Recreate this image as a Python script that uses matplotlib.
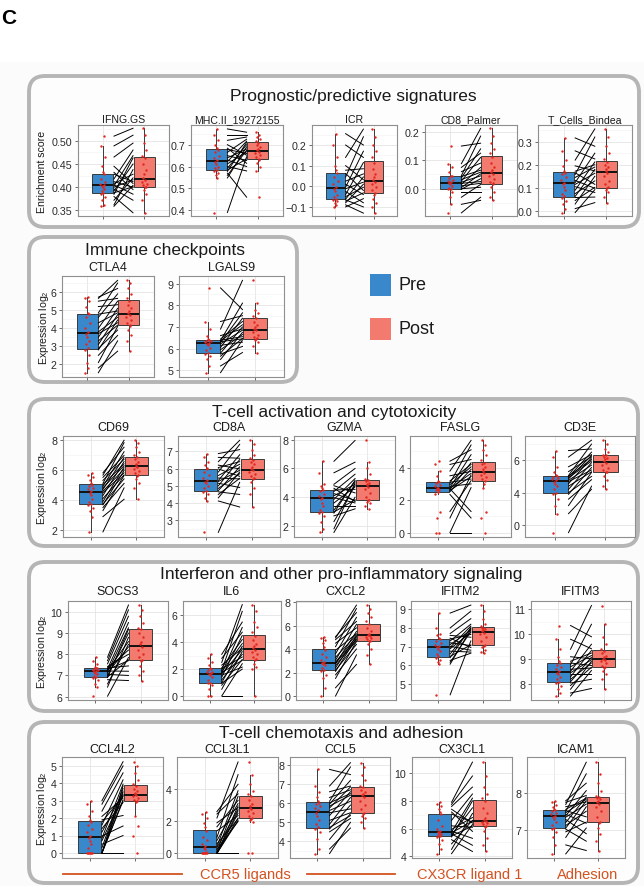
import matplotlib
matplotlib.use('Agg')
import matplotlib.pyplot as plt
from matplotlib.patches import FancyBboxPatch, Rectangle
from matplotlib.lines import Line2D
from matplotlib.ticker import AutoMinorLocator

plt.rcParams['font.family'] = ['Liberation Sans', 'DejaVu Sans']
plt.rcParams['mathtext.fontset'] = 'custom'
plt.rcParams['mathtext.rm'] = 'Liberation Sans'
plt.rcParams['mathtext.it'] = 'Liberation Sans:italic'

W, H = 644, 887
PRE_COLOR = '#3A88CC'
POST_COLOR = '#F27A6E'
DOT_COLOR = '#E3261F'
NOTE_COLOR = '#D4521F'

# ---- values (20 samples per group, sorted) ----
IFNG_PRE = [0.359, 0.362, 0.372, 0.380, 0.385, 0.388, 0.392, 0.396, 0.400, 0.403, 0.405, 0.408, 0.412, 0.418, 0.428, 0.432, 0.445, 0.465, 0.489, 0.510]
IFNG_POST = [0.345, 0.372, 0.385, 0.395, 0.400, 0.401, 0.404, 0.408, 0.412, 0.416, 0.420, 0.428, 0.438, 0.450, 0.463, 0.468, 0.480, 0.495, 0.512, 0.527]
MHC_PRE = [0.39, 0.548, 0.560, 0.570, 0.578, 0.584, 0.592, 0.600, 0.612, 0.622, 0.630, 0.640, 0.650, 0.665, 0.678, 0.684, 0.700, 0.720, 0.745, 0.772]
MHC_POST = [0.46, 0.580, 0.600, 0.615, 0.628, 0.635, 0.645, 0.652, 0.660, 0.668, 0.674, 0.680, 0.690, 0.700, 0.710, 0.716, 0.725, 0.735, 0.745, 0.757]
ICR_PRE = [-0.100, -0.090, -0.080, -0.072, -0.066, -0.062, -0.050, -0.040, -0.025, -0.012, -0.004, 0.010, 0.025, 0.045, 0.062, 0.078, 0.100, 0.140, 0.200, 0.255]
ICR_POST = [-0.130, -0.100, -0.080, -0.060, -0.040, -0.032, -0.020, -0.005, 0.010, 0.020, 0.032, 0.045, 0.060, 0.085, 0.115, 0.140, 0.170, 0.200, 0.240, 0.277]
CD8P_PRE = [-0.085, -0.055, -0.030, -0.010, -0.002, 0.0, 0.004, 0.010, 0.015, 0.019, 0.023, 0.027, 0.032, 0.038, 0.043, 0.046, 0.060, 0.075, 0.088, 0.150]
CD8P_POST = [-0.041, -0.030, -0.010, 0.005, 0.015, 0.019, 0.025, 0.035, 0.045, 0.052, 0.058, 0.065, 0.075, 0.090, 0.110, 0.125, 0.140, 0.160, 0.185, 0.212]
TCB_PRE = [-0.007, 0.010, 0.030, 0.045, 0.058, 0.063, 0.075, 0.090, 0.105, 0.115, 0.123, 0.132, 0.145, 0.158, 0.165, 0.172, 0.195, 0.220, 0.260, 0.316]
TCB_POST = [0.036, 0.060, 0.080, 0.092, 0.098, 0.102, 0.115, 0.130, 0.150, 0.163, 0.173, 0.180, 0.190, 0.200, 0.212, 0.225, 0.250, 0.280, 0.320, 0.355]
CTLA4_PRE = [1.54, 1.80, 2.10, 2.50, 2.80, 2.88, 3.10, 3.30, 3.50, 3.70, 3.80, 4.00, 4.30, 4.60, 4.78, 4.85, 5.20, 5.50, 5.65, 5.72]
CTLA4_POST = [2.73, 3.30, 3.60, 3.90, 4.10, 4.17, 4.30, 4.45, 4.60, 4.75, 4.85, 4.95, 5.10, 5.30, 5.50, 5.65, 5.90, 6.20, 6.50, 6.65]
LGALS9_PRE = [4.89, 5.20, 5.50, 5.65, 5.75, 5.79, 5.95, 6.05, 6.15, 6.22, 6.28, 6.32, 6.35, 6.37, 6.39, 6.44, 6.60, 6.90, 7.25, 8.80]
LGALS9_POST = [5.82, 6.10, 6.30, 6.40, 6.45, 6.47, 6.55, 6.65, 6.75, 6.85, 6.91, 7.00, 7.10, 7.25, 7.40, 7.52, 7.65, 7.80, 8.10, 9.15]
CD69_PRE = [1.89, 2.90, 3.30, 3.50, 3.68, 3.73, 3.90, 4.10, 4.30, 4.48, 4.58, 4.70, 4.80, 4.90, 5.02, 5.10, 5.30, 5.50, 5.65, 5.80]
CD69_POST = [4.05, 4.80, 5.10, 5.40, 5.62, 5.66, 5.80, 5.95, 6.05, 6.18, 6.28, 6.40, 6.55, 6.70, 6.82, 6.95, 7.20, 7.50, 7.80, 7.96]
CD8A_PRE = [2.30, 4.12, 4.30, 4.50, 4.65, 4.72, 4.85, 5.00, 5.15, 5.25, 5.31, 5.45, 5.60, 5.80, 5.98, 6.06, 6.20, 6.40, 6.65, 6.87]
CD8A_POST = [3.77, 4.50, 4.90, 5.20, 5.40, 5.43, 5.55, 5.70, 5.80, 5.90, 5.98, 6.10, 6.25, 6.40, 6.52, 6.60, 6.80, 7.10, 7.40, 7.64]
GZMA_PRE = [1.55, 1.80, 2.30, 2.70, 2.90, 2.97, 3.10, 3.40, 3.60, 3.85, 3.97, 4.10, 4.25, 4.40, 4.50, 4.62, 4.80, 4.90, 5.70, 6.50]
GZMA_POST = [3.19, 3.40, 3.60, 3.70, 3.78, 3.82, 4.00, 4.30, 4.55, 4.72, 4.82, 4.90, 5.00, 5.10, 5.18, 5.30, 5.60, 6.00, 6.44, 7.95]
FASLG_PRE = [0.0, 0.0, 0.9, 1.3, 2.35, 2.52, 2.60, 2.65, 2.70, 2.73, 2.77, 2.85, 2.95, 3.05, 3.10, 3.18, 3.50, 3.79, 4.20, 4.40]
FASLG_POST = [0.0, 0.9, 1.3, 2.77, 3.00, 3.20, 3.30, 3.45, 3.55, 3.65, 3.77, 3.90, 4.05, 4.20, 4.30, 4.50, 4.80, 5.10, 5.40, 5.68]
CD3E_PRE = [1.53, 2.70, 3.20, 3.60, 3.90, 4.00, 4.20, 4.40, 4.55, 4.68, 4.76, 4.85, 4.92, 4.97, 5.02, 5.06, 5.30, 5.60, 6.20, 6.60]
CD3E_POST = [4.21, 4.40, 4.80, 5.00, 5.25, 5.29, 5.40, 5.55, 5.70, 5.85, 5.95, 6.05, 6.15, 6.22, 6.30, 6.35, 6.50, 6.70, 7.00, 7.24]
SOCS3_PRE = [6.02, 6.45, 6.60, 6.80, 6.90, 6.93, 6.98, 7.05, 7.12, 7.17, 7.21, 7.25, 7.28, 7.31, 7.33, 7.36, 7.42, 7.55, 7.70, 7.86]
SOCS3_POST = [6.76, 7.00, 7.20, 7.45, 7.70, 7.74, 7.85, 8.00, 8.20, 8.35, 8.47, 8.60, 8.80, 9.00, 9.18, 9.25, 9.50, 9.80, 10.10, 10.33]
IL6_PRE = [0.0, 0.0, 0.5, 0.8, 0.95, 1.0, 1.20, 1.40, 1.55, 1.63, 1.69, 1.75, 1.82, 1.90, 2.03, 2.10, 2.30, 2.50, 2.80, 3.10]
IL6_POST = [0.0, 2.00, 2.15, 2.40, 2.65, 2.72, 2.90, 3.10, 3.30, 3.45, 3.55, 3.70, 3.90, 4.20, 4.50, 4.75, 5.10, 5.50, 6.30, 6.80]
CXCL2_PRE = [0.0, 0.7, 1.5, 1.8, 2.10, 2.20, 2.40, 2.60, 2.75, 2.80, 2.88, 3.05, 3.30, 3.60, 3.90, 4.20, 4.50, 4.80, 4.95, 5.05]
CXCL2_POST = [2.69, 3.50, 4.00, 4.40, 4.65, 4.70, 4.82, 4.95, 5.05, 5.12, 5.20, 5.30, 5.50, 5.80, 6.10, 6.35, 6.70, 7.10, 7.45, 7.74]
IFITM2_PRE = [4.40, 6.05, 6.15, 6.25, 6.40, 6.47, 6.60, 6.75, 6.88, 6.95, 7.01, 7.10, 7.20, 7.30, 7.40, 7.45, 7.60, 7.70, 8.00, 8.80]
IFITM2_POST = [6.64, 6.70, 6.80, 6.95, 7.05, 7.09, 7.30, 7.50, 7.65, 7.75, 7.81, 7.88, 7.93, 7.98, 8.02, 8.10, 8.20, 8.50, 8.90, 9.23]
IFITM3_PRE = [7.53, 7.65, 7.80, 7.95, 8.05, 8.10, 8.20, 8.30, 8.40, 8.46, 8.52, 8.60, 8.70, 8.78, 8.85, 8.92, 9.10, 9.40, 9.80, 10.35]
IFITM3_POST = [7.83, 8.20, 8.40, 8.55, 8.65, 8.68, 8.75, 8.85, 8.92, 8.98, 9.02, 9.08, 9.15, 9.25, 9.35, 9.42, 9.60, 9.90, 10.40, 11.15]
CCL4L2_PRE = [0.0, 0.0, 0.0, 0.0, 0.0, 0.0, 0.30, 0.50, 0.70, 0.85, 0.97, 1.20, 1.40, 1.60, 1.78, 1.90, 2.10, 2.40, 2.80, 3.00]
CCL4L2_POST = [0.0, 1.0, 1.55, 2.15, 2.90, 2.99, 3.05, 3.15, 3.25, 3.30, 3.36, 3.45, 3.55, 3.70, 3.85, 3.95, 4.20, 4.60, 5.00, 5.24]
CCL3L1_PRE = [0.0, 0.0, 0.0, 0.0, 0.0, 0.0, 0.0, 0.10, 0.25, 0.35, 0.43, 0.60, 0.80, 1.00, 1.40, 1.65, 1.90, 2.20, 2.45, 2.60]
CCL3L1_POST = [0.0, 0.0, 1.98, 2.05, 2.15, 2.20, 2.35, 2.50, 2.65, 2.75, 2.85, 2.95, 3.10, 3.30, 3.55, 3.70, 3.90, 4.30, 4.90, 5.69]
CCL5_PRE = [3.36, 3.60, 4.10, 4.50, 4.65, 4.73, 4.90, 5.10, 5.35, 5.50, 5.62, 5.75, 5.85, 5.95, 6.02, 6.10, 6.30, 6.60, 6.90, 7.77]
CCL5_POST = [4.70, 5.00, 5.20, 5.35, 5.45, 5.50, 5.70, 5.90, 6.10, 6.30, 6.42, 6.50, 6.60, 6.70, 6.85, 6.90, 7.20, 7.50, 7.90, 8.12]
CX3CL1_PRE = [4.19, 4.50, 4.90, 5.20, 5.40, 5.47, 5.55, 5.62, 5.70, 5.76, 5.82, 5.95, 6.20, 6.60, 7.05, 7.20, 7.40, 7.60, 7.75, 7.90]
CX3CL1_POST = [4.35, 4.80, 5.30, 5.80, 6.10, 6.19, 6.30, 6.40, 6.48, 6.55, 6.60, 6.80, 7.10, 7.50, 8.00, 8.20, 8.50, 9.00, 9.80, 10.80]
ICAM1_PRE = [6.36, 6.60, 6.80, 6.95, 7.02, 7.05, 7.12, 7.20, 7.28, 7.34, 7.38, 7.42, 7.46, 7.50, 7.52, 7.55, 7.62, 7.68, 7.74, 7.78]
ICAM1_POST = [6.45, 6.70, 6.90, 7.05, 7.18, 7.21, 7.35, 7.50, 7.62, 7.69, 7.75, 7.78, 7.82, 7.85, 7.88, 7.92, 8.05, 8.25, 8.50, 8.81]

PAIR_A = [6, 12, 10, 0, 14, 5, 13, 1, 9, 15, 2, 11, 4, 16, 8, 3, 7, 17, 18, 19]
PAIR_B = [3, 0, 8, 5, 1, 11, 7, 14, 2, 9, 16, 4, 12, 18, 6, 13, 10, 19, 15, 17]
PAIR_C = [1, 0, 4, 2, 7, 3, 9, 5, 12, 6, 8, 14, 10, 16, 11, 18, 13, 15, 19, 17]

JITTER = [-0.04, 0.03, -0.01, 0.05, -0.05, 0.01, -0.03, 0.04, 0.0, -0.02,
          0.02, -0.06, 0.06, -0.035, 0.035, 0.015, -0.015, 0.045, -0.045, 0.025]

# title, pre, post, pairing, yticks, ylim, tick labels (None -> from format), format
PANELS = [
    ('IFNG.GS', IFNG_PRE, IFNG_POST, PAIR_A, [0.35, 0.40, 0.45, 0.50], (0.338, 0.534), None, '{:.2f}'),
    ('MHC.II_19272155', MHC_PRE, MHC_POST, PAIR_A, [0.4, 0.5, 0.6, 0.7], (0.374, 0.790), None, '{:.1f}'),
    ('ICR', ICR_PRE, ICR_POST, PAIR_B, [-0.1, 0.0, 0.1, 0.2], (-0.144, 0.297), None, '{:.1f}'),
    ('CD8_Palmer', CD8P_PRE, CD8P_POST, PAIR_C, [0.0, 0.1, 0.2], (-0.096, 0.224), None, '{:.1f}'),
    ('T_Cells_Bindea', TCB_PRE, TCB_POST, PAIR_B, [0.0, 0.1, 0.2, 0.3], (-0.022, 0.372), None, '{:.1f}'),
    ('CTLA4', CTLA4_PRE, CTLA4_POST, PAIR_C, [2, 3, 4, 5, 6], (1.30, 6.89), None, '{:.0f}'),
    ('LGALS9', LGALS9_PRE, LGALS9_POST, PAIR_B, [5, 6, 7, 8, 9], (4.69, 9.35), None, '{:.0f}'),
    ('CD69', CD69_PRE, CD69_POST, PAIR_C, [2, 4, 6, 8], (1.55, 8.24), None, '{:.0f}'),
    ('CD8A', CD8A_PRE, CD8A_POST, PAIR_B, [3, 4, 5, 6, 7], (2.03, 7.89), None, '{:.0f}'),
    ('GZMA', GZMA_PRE, GZMA_POST, PAIR_A, [2, 4, 6, 8], (1.23, 8.26), None, '{:.0f}'),
    ('FASLG', FASLG_PRE, FASLG_POST, PAIR_B, [0, 2, 4], (-0.27, 5.95), None, '{:.0f}'),
    ('CD3E', CD3E_PRE, CD3E_POST, PAIR_C, [2, 4, 6], (1.26, 7.50), ['0', '4', '6'], '{:.0f}'),
    ('SOCS3', SOCS3_PRE, SOCS3_POST, PAIR_A, [6, 7, 8, 9, 10], (5.84, 10.52), None, '{:.0f}'),
    ('IL6', IL6_PRE, IL6_POST, PAIR_B, [0, 2, 4, 6], (-0.30, 7.07), None, '{:.0f}'),
    ('CXCL2', CXCL2_PRE, CXCL2_POST, PAIR_C, [0, 2, 4, 6, 8], (-0.34, 8.09), None, '{:.0f}'),
    ('IFITM2', IFITM2_PRE, IFITM2_POST, PAIR_A, [5, 6, 7, 8, 9], (4.12, 9.45), None, '{:.0f}'),
    ('IFITM3', IFITM3_PRE, IFITM3_POST, PAIR_B, [8, 9, 10, 11], (7.37, 11.33), None, '{:.0f}'),
    ('CCL4L2', CCL4L2_PRE, CCL4L2_POST, PAIR_A, [0, 1, 2, 3, 4, 5], (-0.29, 5.51), None, '{:.0f}'),
    ('CCL3L1', CCL3L1_PRE, CCL3L1_POST, PAIR_B, [0, 2, 4], (-0.29, 6.00), None, '{:.0f}'),
    ('CCL5', CCL5_PRE, CCL5_POST, PAIR_C, [4, 5, 6, 7, 8], (3.13, 8.42), None, '{:.0f}'),
    ('CX3CL1', CX3CL1_PRE, CX3CL1_POST, PAIR_A, [4, 6, 8, 10], (3.88, 11.17), None, '{:.0f}'),
    ('ICAM1', ICAM1_PRE, ICAM1_POST, PAIR_B, [7, 8], (6.25, 8.95), None, '{:.0f}'),
]

# ---- layout in pixels (left, top, right, bottom) ----
PANEL_RECTS = [
    (78, 126, 169, 217), (191, 126, 283, 217), (312, 126, 397, 217), (425, 126, 517, 217), (538, 126, 632, 217),
    (62, 277, 154, 378), (179, 277, 284, 378),
    (63, 437, 164, 538), (178, 437, 280, 538), (294, 437, 395, 538), (410, 437, 511, 538), (525, 437, 635, 538),
    (68, 602, 168, 701), (183, 602, 281, 701), (296, 602, 396, 701), (411, 602, 510, 701), (531, 602, 631, 701),
    (62, 758, 163, 859), (177, 758, 278, 859), (290, 758, 390, 859), (412, 758, 512, 859), (527, 758, 625, 859),
]
# title, title x, title y, box, first panel index, y label, y-label x, panel title y, panel title size
GROUPS = [
    ('Prognostic/predictive signatures', 353, 96, (29, 77, 639, 228), 0, 'Enrichment score', 42, 120, 7.6),
    ('Immune checkpoints', 165, 250, (29, 238, 297, 383), 5, r'Expression log$_2$', 44, 268, 9),
    ('T-cell activation and cytotoxicity', 334, 413, (29, 400, 638, 547), 7, r'Expression log$_2$', 42, 428, 9),
    ('Interferon and other pro-inflammatory signaling', 341, 575, (29, 563, 638, 712), 12, r'Expression log$_2$', 42, 592, 9),
    ('T-cell chemotaxis and adhesion', 341, 734, (29, 723, 638, 884), 17, r'Expression log$_2$', 42, 750, 9),
]

fig = plt.figure(figsize=(W / 100, H / 100), dpi=100)
fig.patch.set_facecolor('white')


def fx(x):
    return x / W


def fy(y):
    return 1 - y / H


def draw_panel(ax, title, pre, post, pair, yticks, ylim, labels, fmt):
    post_paired = [post[i] for i in pair]
    bp = ax.boxplot([pre, post], positions=[1, 2], widths=0.5, patch_artist=True,
                    showfliers=False, showcaps=False, whis=1.5, zorder=2)
    for patch, c in zip(bp['boxes'], [PRE_COLOR, POST_COLOR]):
        patch.set_facecolor(c)
        patch.set_edgecolor('#3a3a3a')
        patch.set_linewidth(0.7)
    for w in bp['whiskers']:
        w.set_color('#3a3a3a')
        w.set_linewidth(0.7)
    for m in bp['medians']:
        m.set_color('#111111')
        m.set_linewidth(1.4)
    for a, b in zip(pre, post_paired):
        ax.plot([1.27, 1.73], [a, b], color='black', lw=0.7, zorder=3)
    ax.scatter([1 + j for j in JITTER], pre, s=3, color=DOT_COLOR, linewidths=0, zorder=4)
    ax.scatter([2 + j for j in JITTER[::-1]], post, s=3, color=DOT_COLOR, linewidths=0, zorder=4)

    ax.set_xlim(0.4, 2.6)
    ax.set_ylim(*ylim)
    ax.set_xticks([1, 2])
    ax.set_xticklabels([])
    ax.set_yticks(yticks)
    if labels is None:
        labels = [fmt.format(v).replace('-', '\u2212') for v in yticks]
    ax.set_yticklabels(labels)
    ax.yaxis.set_minor_locator(AutoMinorLocator(2))
    ax.grid(which='major', color='#e4e4e4', lw=0.6)
    ax.grid(which='minor', axis='y', color='#f1f1f1', lw=0.4)
    ax.set_axisbelow(True)
    ax.tick_params(which='major', length=2.5, width=0.6, color='#555555',
                   labelsize=7.7, labelcolor='#2b2b2b', pad=1.5)
    ax.tick_params(which='minor', length=0)
    for s in ax.spines.values():
        s.set_color('#8f8f8f')
        s.set_linewidth(0.8)


# background and group frames
fig.add_artist(Rectangle((0, 0), W / 100, (H - 63) / 100, transform=fig.dpi_scale_trans,
                         facecolor='#fbfbfb', edgecolor='none', zorder=-3))
for gtitle, gx, gy, (l, t, r, b), first, ylab, ylab_x, ptitle_y, psize in GROUPS:
    fig.add_artist(FancyBboxPatch((l / 100, (H - b) / 100), (r - l) / 100, (b - t) / 100,
                                  boxstyle='round,pad=0,rounding_size=0.16',
                                  transform=fig.dpi_scale_trans, facecolor='#fdfdfd',
                                  edgecolor='#b5b5b5', lw=2.8, zorder=-2))
    fig.text(fx(gx), fy(gy), gtitle, ha='center', va='center', fontsize=12.5, color='#1a1a1a')
    pl, pt, pr, pb = PANEL_RECTS[first]
    fig.text(fx(ylab_x), fy((pt + pb) / 2), ylab, rotation=90, ha='center', va='center',
             fontsize=7.6, color='#1a1a1a')

panel_group = []
for gi, g in enumerate(GROUPS):
    end = GROUPS[gi + 1][4] if gi + 1 < len(GROUPS) else len(PANELS)
    panel_group += [g] * (end - g[4])

for spec, (l, t, r, b), g in zip(PANELS, PANEL_RECTS, panel_group):
    ax = fig.add_axes([fx(l), fy(b), (r - l) / W, (b - t) / H])
    draw_panel(ax, *spec)
    fig.text(fx((l + r) / 2), fy(g[7]), spec[0], ha='center', va='center',
             fontsize=g[8], color='#1a1a1a')

# legend
for label, top, color in [('Pre', 275, PRE_COLOR), ('Post', 319, POST_COLOR)]:
    fig.add_artist(Rectangle((370 / 100, (H - top - 22) / 100), 0.21, 0.22,
                             transform=fig.dpi_scale_trans, facecolor=color, edgecolor='none'))
    fig.text(fx(399), fy(top + 11), label, ha='left', va='center', fontsize=13, color='#1a1a1a')

# bottom annotations
for x0, x1 in [(63, 182), (307, 395)]:
    fig.add_artist(Line2D([fx(x0), fx(x1)], [fy(875), fy(875)], color=NOTE_COLOR, lw=1.3))
for txt, cx in [('CCR5 ligands', 245), ('CX3CR ligand 1', 470), ('Adhesion', 588)]:
    fig.text(fx(cx), fy(875), txt, ha='center', va='center', fontsize=10.5, color=NOTE_COLOR)

fig.text(fx(1), fy(18), 'C', ha='left', va='center', fontsize=15, fontweight='bold', color='black')

fig.savefig('out.png', dpi=100)
